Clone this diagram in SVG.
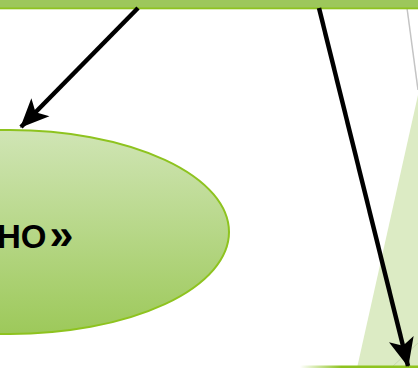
<svg xmlns="http://www.w3.org/2000/svg" width="418" height="368" viewBox="0 0 418 368">
<style>
.conn{stroke:#000;stroke-width:4.5;fill:none}
</style>
<defs>
<linearGradient id="eg" x1="0" y1="0" x2="0" y2="1">
<stop offset="0" stop-color="#d0e5b5"/>
<stop offset="1" stop-color="#9dc95a"/>
</linearGradient>
<linearGradient id="bl" x1="0" y1="0" x2="1" y2="0">
<stop offset="0" stop-color="#8ec31f" stop-opacity="0"/>
<stop offset="0.35" stop-color="#8ec31f"/>
<stop offset="1" stop-color="#8ec31f"/>
</linearGradient>
<marker id="ah" markerUnits="userSpaceOnUse" markerWidth="30" markerHeight="26" refX="24" refY="11" orient="auto" viewBox="0 0 26 22">
<path d="M0,0 L25,11 L0,22 L6,11 Z" fill="#000"/>
</marker>
</defs>
<g id="bg-shapes">
<polygon points="357,368 418,95 418,368" fill="#dcebc4"/>
<line x1="407" y1="8" x2="418" y2="90" stroke="#c4c4c4" stroke-width="1.5"/>
<line x1="393" y1="366" x2="418" y2="343" stroke="#c8d8b0" stroke-width="1"/>
<rect x="300" y="365.5" width="118" height="2.5" fill="url(#bl)"/>
</g>
<g id="top-node">
<rect x="0" y="0" width="418" height="8" fill="#9dc75b"/>
<rect x="0" y="7.5" width="418" height="1.8" fill="#8ec31f"/>
</g>
<g id="ellipse-node">
<ellipse cx="10" cy="232" rx="219" ry="102" fill="url(#eg)" stroke="#8ec31f" stroke-width="2"/>
<text x="-3" y="248" font-family="Liberation Sans, Arial, sans-serif" font-weight="bold" font-size="33" fill="#000">НО<tspan font-size="43" dx="3" dy="1">»</tspan></text>
</g>
<g id="connectors">
<line class="conn" x1="138" y1="8" x2="21" y2="127" marker-end="url(#ah)"/>
<line class="conn" x1="319" y1="8" x2="408" y2="366" marker-end="url(#ah)"/>
</g>
</svg>
